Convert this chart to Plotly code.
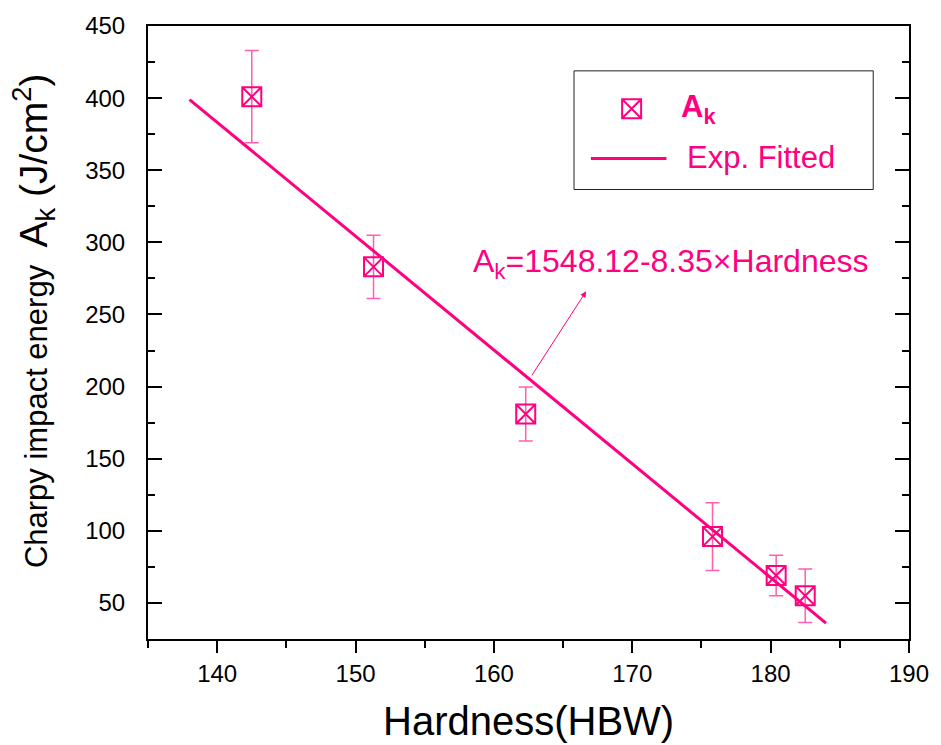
import plotly.graph_objects as go

# ---- data ----
hardness = [142.5, 151.3, 162.3, 175.8, 180.4, 182.5]
ak = [401, 283, 181, 96, 69, 55]
ak_err = [32, 22, 18.7, 23.5, 14, 18.6]
fit_x = [138, 184]
fit_y = [399, 36]
x_ticks = [140, 150, 160, 170, 180, 190]
y_ticks = [50, 100, 150, 200, 250, 300, 350, 400, 450]

MAG = '#ff0080'
ERR = '#ff5fae'
FONT = 'Arial, Liberation Sans, sans-serif'

fig = go.Figure()

fig.add_trace(go.Scatter(
    x=hardness, y=ak, mode='markers', name='A<sub>k</sub>',
    marker=dict(symbol='square-x-open', size=19, color=MAG, line=dict(width=2, color=MAG)),
    error_y=dict(type='data', array=ak_err, color=ERR, thickness=1.5, width=7),
    showlegend=False))

fig.add_trace(go.Scatter(
    x=fit_x, y=fit_y, mode='lines', name='Exp. Fitted',
    line=dict(color=MAG, width=3), showlegend=False))

# legend marker sample on an overlay 0-1 axis
fig.add_trace(go.Scatter(
    x=[0.6355], y=[0.865], mode='markers', xaxis='x2', yaxis='y2',
    marker=dict(symbol='square-x-open', size=19, color=MAG, line=dict(width=2, color=MAG)),
    showlegend=False, hoverinfo='skip'))

fig.update_layout(
    width=941, height=745,
    margin=dict(l=148, r=28, t=23, b=106),
    paper_bgcolor='white', plot_bgcolor='white',
    font=dict(family=FONT, color='black', size=24),
    showlegend=False,
    xaxis=dict(range=[135, 190], tickvals=x_ticks, ticks='outside', ticklen=12, tickwidth=2,
               tickcolor='black', showline=True, linewidth=2, linecolor='black', mirror=True,
               showgrid=False, zeroline=False, tickfont=dict(size=24, family=FONT),
               minor=dict(dtick=5, tick0=135, ticks='outside', ticklen=7, tickwidth=2, tickcolor='black')),
    yaxis=dict(range=[25, 450], tickvals=y_ticks, ticks='inside', ticklen=14, tickwidth=2,
               tickcolor='black', showline=True, linewidth=2, linecolor='black', mirror='ticks',
               showgrid=False, zeroline=False, tickfont=dict(size=24, family=FONT),
               ticklabelstandoff=16,
               minor=dict(dtick=25, tick0=25, ticks='inside', ticklen=7, tickwidth=2, tickcolor='black')),
    xaxis2=dict(range=[0, 1], overlaying='x', visible=False, anchor='y2'),
    yaxis2=dict(range=[0, 1], overlaying='y', visible=False, anchor='x2'),
)

# legend box + line sample
fig.add_shape(type='rect', xref='paper', yref='paper', x0=0.5598, x1=0.953, y0=0.7333, y1=0.9268,
              line=dict(color='#222222', width=1), fillcolor='rgba(0,0,0,0)')
fig.add_shape(type='line', xref='paper', yref='paper', x0=0.582, x1=0.6813, y0=0.7837, y1=0.7837,
              line=dict(color=MAG, width=3))

annots = [
    dict(text='<b>A<sub>k</sub></b>', x=0.6982, y=0.8642, xref='paper', yref='paper',
         xanchor='left', yanchor='middle', showarrow=False, font=dict(size=31, color=MAG, family=FONT)),
    dict(text='Exp. Fitted', x=0.7061, y=0.7854, xref='paper', yref='paper',
         xanchor='left', yanchor='middle', showarrow=False, font=dict(size=31, color=MAG, family=FONT)),
    # equation
    dict(text='A<sub>k</sub>=1548.12-8.35×Hardness', x=158.31, y=285.5, xref='x', yref='y',
         xanchor='left', yanchor='middle', showarrow=False, font=dict(size=32, color=MAG, family=FONT)),
    # arrow
    dict(text='', x=166.67, y=266.1, ax=162.67, ay=206.7, xref='x', yref='y', axref='x', ayref='y',
         showarrow=True, arrowhead=2, arrowsize=1.2, arrowwidth=1, arrowcolor=MAG, standoff=0, startstandoff=0),
    # axis titles
    dict(text='Hardness(HBW)', x=0.5, y=-0.1333, xref='paper', yref='paper',
         xanchor='center', yanchor='middle', showarrow=False, font=dict(size=40, color='black', family=FONT)),
    dict(text='Charpy impact energy  <span style="font-size:39px">A<sub>k</sub> (J/cm<sup>2</sup>)</span>',
         x=-0.15, y=0.52, xref='paper', yref='paper', textangle=-90,
         xanchor='center', yanchor='middle', showarrow=False, font=dict(size=31, color='black', family=FONT)),
]
for a in annots:
    fig.add_annotation(**a)

fig.write_html('out.html')
